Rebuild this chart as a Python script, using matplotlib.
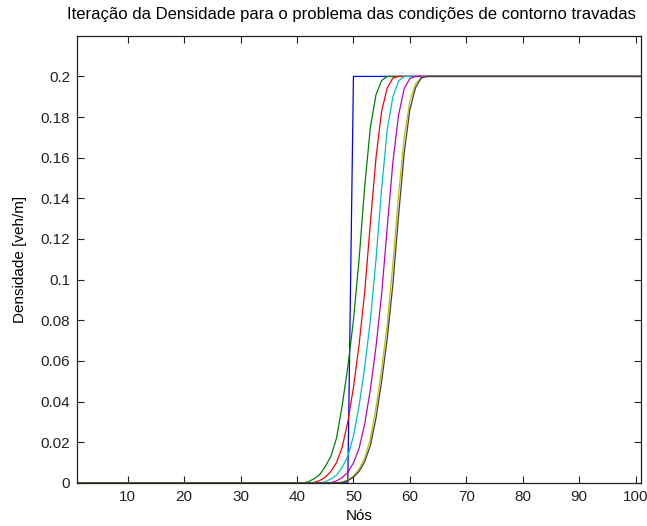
import numpy as np
import matplotlib
matplotlib.use('Agg')
import matplotlib.pyplot as plt

plt.rcParams['font.family'] = ['Liberation Sans', 'DejaVu Sans']

N_NODES = 101
nodes = np.arange(1, N_NODES + 1)

# transition values (first node of each ramp given separately)
blue_start, blue_ramp = 50, []
green_start, green_ramp = 42, [0.0005, 0.002, 0.004, 0.008, 0.013, 0.022, 0.038, 0.057,
                               0.080, 0.110, 0.146, 0.175, 0.191, 0.198]
red_start, red_ramp = 43, [0.0002, 0.0011, 0.0028, 0.0056, 0.0100, 0.0175, 0.0300, 0.047,
                           0.0680, 0.094, 0.1280, 0.1600, 0.1830, 0.1944, 0.1992]
cyan_start, cyan_ramp = 45, [0.0005, 0.0019, 0.0038, 0.0076, 0.0130, 0.0230, 0.038, 0.057,
                             0.0800, 0.1100, 0.1450, 0.1740, 0.1900, 0.1978]
magenta_start, magenta_ramp = 46, [0.00015, 0.00095, 0.0026, 0.0052, 0.0098, 0.0170, 0.029,
                                   0.046, 0.067, 0.093, 0.126, 0.158, 0.181, 0.194, 0.199]
yellow_start, yellow_ramp = 48, [0.00035, 0.0016, 0.0034, 0.0068, 0.0122, 0.0217, 0.0369,
                                 0.056, 0.0781, 0.108, 0.1418, 0.1702, 0.1878, 0.1962, 0.1994]
black_start, black_ramp = 48, [0.0002, 0.0011, 0.0028, 0.0056, 0.0104, 0.0184, 0.0318, 0.050,
                               0.0712, 0.098, 0.1316, 0.1624, 0.1836, 0.1944, 0.1992]

RHO_LOW = 0.0
RHO_HIGH = 0.2


def build(start, ramp):
    before = [RHO_LOW] * (start - 1)
    after = [RHO_HIGH] * (N_NODES - len(before) - len(ramp))
    return np.array(before + ramp + after)


curves = [
    (build(blue_start, blue_ramp), (0, 0, 1)),
    (build(green_start, green_ramp), (0, 0.5, 0)),
    (build(red_start, red_ramp), (1, 0, 0)),
    (build(cyan_start, cyan_ramp), (0, 0.75, 0.75)),
    (build(magenta_start, magenta_ramp), (0.75, 0, 0.75)),
    (build(yellow_start, yellow_ramp), (0.75, 0.75, 0)),
    (build(black_start, black_ramp), (0.25, 0.25, 0.25)),
]

fig = plt.figure(figsize=(6.47, 5.26), dpi=100)
ax = fig.add_axes([0.119, 0.082, 0.872, 0.850])

for rho, col in curves:
    ax.plot(nodes, rho, color=col, linewidth=0.9)

ax.set_xlim(1, 101)
ax.set_ylim(0, 0.22)
ax.set_xticks(np.arange(10, 101, 10))
yt = np.arange(0, 0.2001, 0.02)
ax.set_yticks(yt)
ax.set_yticklabels(['0'] + ['%g' % round(v, 2) for v in yt[1:]])

ax.tick_params(direction='in', top=True, right=True, length=5, width=0.8,
               labelsize=11, colors='#222222', pad=5)
for s in ax.spines.values():
    s.set_linewidth(0.9)
    s.set_color('#222222')

fig.text(0.543, 0.973,
         'Iteração da Densidade para o problema das condições de contorno travadas',
         fontsize=12, ha='center', va='center')
ax.set_xlabel('Nós', fontsize=11, labelpad=4)
ax.set_ylabel('Densidade [veh/m]', fontsize=11, labelpad=10)

fig.savefig('out.png', dpi=100)
